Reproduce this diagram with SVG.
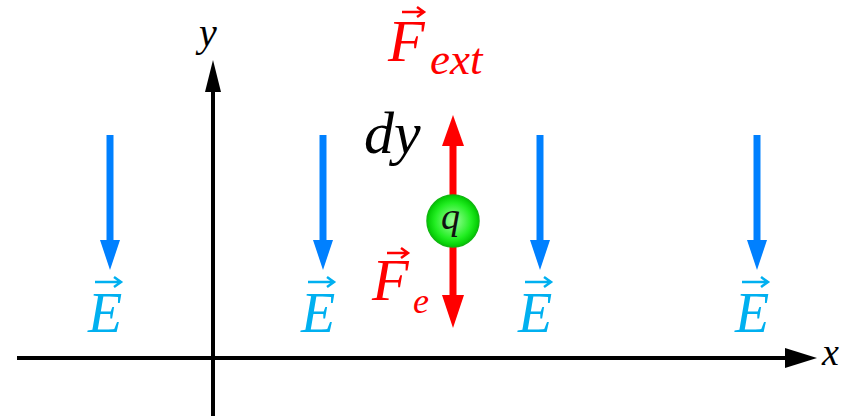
<svg xmlns="http://www.w3.org/2000/svg" width="844" height="418" viewBox="0 0 844 418">
<defs>
<radialGradient id="gq" cx="0.5" cy="0.5" r="0.5">
<stop offset="0" stop-color="#a0ffa0"/>
<stop offset="0.7" stop-color="#22ee22"/>
<stop offset="1" stop-color="#00c800"/>
</radialGradient>
</defs>
<style>
.ax{stroke:#000;stroke-width:4;fill:none}
.axh{fill:#000}
.ef{stroke:#0080ff;stroke-width:7;fill:none}
.efh{fill:#0080ff}
.rf{stroke:#ff0000;stroke-width:7;fill:none}
.rfh{fill:#ff0000}
.m{font-family:"Liberation Serif","DejaVu Serif",serif;font-style:italic}
.el{fill:#00b0f0;font-size:56px}
.va{stroke-width:2.5;fill:none}
.red{fill:#ff0000}
</style>
<g id="connectors">
<g id="x-axis">
<line class="ax" x1="17" y1="358" x2="790" y2="358"/>
<polygon class="axh" points="785,348 817,358 785,368"/>
</g>
<g id="y-axis">
<line class="ax" x1="213" y1="416" x2="213" y2="88"/>
<polygon class="axh" points="205,92 213,60 221,92"/>
</g>
<g id="field-arrows">
<line class="ef" x1="110" y1="135" x2="110" y2="245"/>
<polygon class="efh" points="100,240 120,240 110,270"/>
<line class="ef" x1="323" y1="135" x2="323" y2="245"/>
<polygon class="efh" points="313,240 333,240 323,270"/>
<line class="ef" x1="540" y1="135" x2="540" y2="245"/>
<polygon class="efh" points="530,240 550,240 540,270"/>
<line class="ef" x1="757" y1="135" x2="757" y2="245"/>
<polygon class="efh" points="747,240 767,240 757,270"/>
</g>
<g id="force-arrows">
<line class="rf" x1="453" y1="142" x2="453" y2="300"/>
<polygon class="rfh" points="442,146 464,146 453,115"/>
<polygon class="rfh" points="442,295 464,295 453,328"/>
</g>
</g>
<g id="labels-axes">
<text class="m" x="199" y="46" font-size="40">y</text>
<text class="m" x="822" y="365" font-size="38">x</text>
</g>
<g id="E-labels">
<g id="E1"><text class="m el" x="88" y="332">E</text><path d="M95 282 H121 M114 277 L121 282 L114 287" stroke="#00b0f0" class="va"/></g>
<g id="E2"><text class="m el" x="301" y="332">E</text><path d="M308 282 H334 M327 277 L334 282 L327 287" stroke="#00b0f0" class="va"/></g>
<g id="E3"><text class="m el" x="518" y="332">E</text><path d="M525 282 H551 M544 277 L551 282 L544 287" stroke="#00b0f0" class="va"/></g>
<g id="E4"><text class="m el" x="735" y="332">E</text><path d="M742 282 H768 M761 277 L768 282 L761 287" stroke="#00b0f0" class="va"/></g>
</g>
<g id="charge">
<circle cx="453" cy="221" r="26" fill="url(#gq)" stroke="#10b810" stroke-width="1.5"/>
<text class="m" x="441" y="229" font-size="38" fill="#111">q</text>
</g>
<g id="F-ext">
<text class="m red" x="388" y="61" font-size="60">F</text>
<text class="m red" x="430" y="74" font-size="45">ext</text>
<path d="M402 12 H424 M417 7 L424 12 L417 17" stroke="#ff0000" class="va"/>
</g>
<g id="F-e">
<text class="m red" x="372" y="300" font-size="60">F</text>
<text class="m red" x="413" y="313" font-size="36">e</text>
<path d="M387 253 H408 M401 248 L408 253 L401 258" stroke="#ff0000" class="va"/>
</g>
<g id="dy">
<text class="m" x="364" y="153" font-size="60" fill="#000">dy</text>
</g>
</svg>
